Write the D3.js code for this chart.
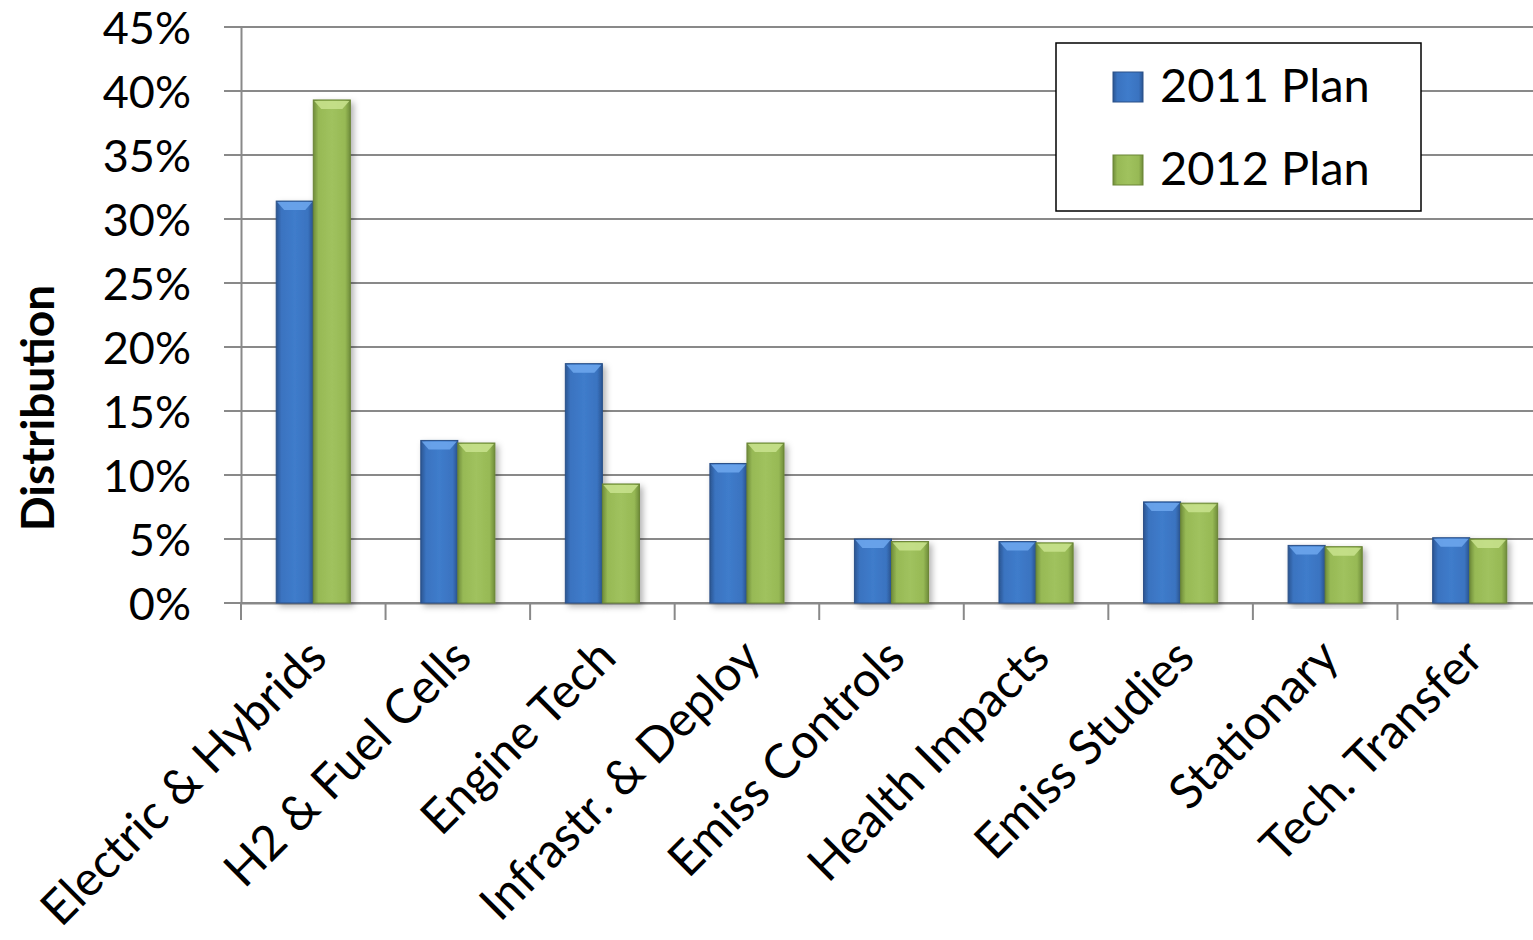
<!DOCTYPE html>
<html>
<head>
<meta charset="utf-8">
<script src="https://cdn.jsdelivr.net/npm/d3@7"></script>
<style>
  body { margin: 0; background: #fff; }
  text { font-family: Lato, "Open Sans", sans-serif; fill: #000; }
</style>
</head>
<body>
<div id="chart"></div>
<script>
// chart data
var categories = ["Electric & Hybrids", "H2 & Fuel Cells", "Engine Tech", "Infrastr. & Deploy",
  "Emiss Controls", "Health Impacts", "Emiss Studies", "Stationary", "Tech. Transfer"];
var seriesNames = ["2011 Plan", "2012 Plan"];
var plan2011 = [31.4, 12.7, 18.7, 10.9, 5.0, 4.8, 7.9, 4.5, 5.1];
var plan2012 = [39.3, 12.5, 9.3, 12.5, 4.8, 4.7, 7.8, 4.4, 5.0];
var yTicks = [0, 5, 10, 15, 20, 25, 30, 35, 40, 45];

var svgWidth = 1533;
var svgHeight = 940;

var svg = d3.select("#chart")
  .append("svg")
  .attr("width", svgWidth)
  .attr("height", svgHeight);

var defs = svg.append("defs");

// gradients for the bevelled bars
function barGradient(id, dark, mid, light) {
  var g = defs.append("linearGradient").attr("id", id)
    .attr("x1", "0").attr("x2", "1").attr("y1", "0").attr("y2", "0");
  g.append("stop").attr("offset", "0%").attr("stop-color", dark);
  g.append("stop").attr("offset", "14%").attr("stop-color", mid);
  g.append("stop").attr("offset", "50%").attr("stop-color", light);
  g.append("stop").attr("offset", "86%").attr("stop-color", mid);
  g.append("stop").attr("offset", "100%").attr("stop-color", dark);
}
barGradient("gBlue", "#2b5591", "#3a73c0", "#3f7ccb");
barGradient("gGreen", "#6f8c3a", "#97b955", "#a0c25e");

var shadow = defs.append("filter").attr("id", "shadow")
  .attr("x", "-20%").attr("y", "-5%").attr("width", "150%").attr("height", "115%");
shadow.append("feDropShadow").attr("dx", 3).attr("dy", 3).attr("stdDeviation", 3)
  .attr("flood-color", "#000").attr("flood-opacity", 0.3);

var colors = ["url(#gBlue)", "url(#gGreen)"];
var topColors = ["#6fa8ee", "#c9e38e"];
var edgeColors = ["#2a5088", "#6a8536"];

// scales
var xScale = d3.scaleBand()
  .domain(categories)
  .range([241, 1542])
  .paddingInner(0)
  .paddingOuter(0);

var xInner = d3.scaleBand()
  .domain(seriesNames)
  .range([0, xScale.bandwidth()])
  .paddingInner(0)
  .paddingOuter(0.95);

var yScale = d3.scaleLinear()
  .domain([0, 45])
  .range([603, 27]);

// gridlines
svg.append("g")
  .selectAll("line")
  .data(yTicks)
  .enter()
  .append("line")
  .attr("x1", 224)
  .attr("x2", 1542)
  .attr("y1", d => yScale(d))
  .attr("y2", d => yScale(d))
  .attr("stroke", "#898989")
  .attr("stroke-width", 2);

// y axis
var leftAxis = d3.axisLeft(yScale)
  .tickValues(yTicks)
  .tickSize(0)
  .tickPadding(50)
  .tickFormat(d => d + "%");

var yAxisG = svg.append("g")
  .attr("transform", "translate(241, 0)")
  .call(leftAxis);
yAxisG.select(".domain").attr("stroke", "#898989").attr("stroke-width", 2);
yAxisG.selectAll("text")
  .style("font-size", "45px")
  .attr("dy", "0.36em");

// x axis
var bottomAxis = d3.axisBottom(xScale)
  .tickSize(0)
  .tickFormat("");

var xAxisG = svg.append("g")
  .attr("transform", "translate(0, 603)")
  .call(bottomAxis);
xAxisG.select(".domain").attr("stroke", "#898989").attr("stroke-width", 2);

// category separators below axis
svg.append("g")
  .selectAll("line")
  .data(categories)
  .enter()
  .append("line")
  .attr("x1", d => xScale(d))
  .attr("x2", d => xScale(d))
  .attr("y1", 603)
  .attr("y2", 620)
  .attr("stroke", "#898989")
  .attr("stroke-width", 2);

// bars
var rows = categories.map(function(c, i) {
  return { cat: c, values: [plan2011[i], plan2012[i]] };
});

var groups = svg.append("g")
  .selectAll("g")
  .data(rows)
  .enter()
  .append("g")
  .attr("transform", d => `translate(${xScale(d.cat)}, 0)`);

var bars = groups.selectAll("g")
  .data(d => d.values.map((v, j) => ({ v: v, s: j })))
  .enter()
  .append("g");

bars.append("rect")
  .attr("x", d => xInner(seriesNames[d.s]))
  .attr("y", d => yScale(d.v))
  .attr("width", xInner.bandwidth())
  .attr("height", d => yScale(0) - yScale(d.v))
  .attr("fill", d => colors[d.s])
  .attr("stroke", d => edgeColors[d.s])
  .attr("stroke-width", 1)
  .attr("filter", "url(#shadow)");

// top bevel
bars.append("path")
  .attr("d", function(d) {
    var x0 = xInner(seriesNames[d.s]), w = xInner.bandwidth(), y0 = yScale(d.v);
    return `M${x0 + 1},${y0 + 1} L${x0 + w - 1},${y0 + 1} L${x0 + w - 8},${y0 + 9} L${x0 + 8},${y0 + 9} Z`;
  })
  .attr("fill", d => topColors[d.s])
  .attr("opacity", 0.85);

// x tick labels
svg.append("g")
  .selectAll("text")
  .data(categories)
  .enter()
  .append("text")
  .attr("transform", d => `translate(${xScale(d) + xScale.bandwidth() / 2 + 16}, 660) rotate(-45)`)
  .style("text-anchor", "end")
  .style("font-size", "48px")
  .text(d => d);

// y axis title
svg.append("text")
  .attr("transform", "translate(54, 408) rotate(-90)")
  .style("text-anchor", "middle")
  .style("font-size", "46px")
  .style("font-weight", "bold")
  .text("Distribution");

// legend
var legend = svg.append("g");
legend.append("rect")
  .attr("x", 1056)
  .attr("y", 43)
  .attr("width", 365)
  .attr("height", 168)
  .attr("fill", "#fff")
  .attr("stroke", "#000")
  .attr("stroke-width", 1.5);

var legendItems = legend.selectAll("g")
  .data(seriesNames)
  .enter()
  .append("g")
  .attr("transform", (d, i) => `translate(1113, ${72 + i * 83})`);

legendItems.append("rect")
  .attr("width", 30)
  .attr("height", 30)
  .attr("fill", (d, i) => colors[i])
  .attr("stroke", (d, i) => edgeColors[i])
  .attr("stroke-width", 1);

legendItems.append("text")
  .attr("x", 47)
  .attr("y", 30)
  .style("font-size", "47px")
  .text(d => d);
</script>
</body>
</html>
